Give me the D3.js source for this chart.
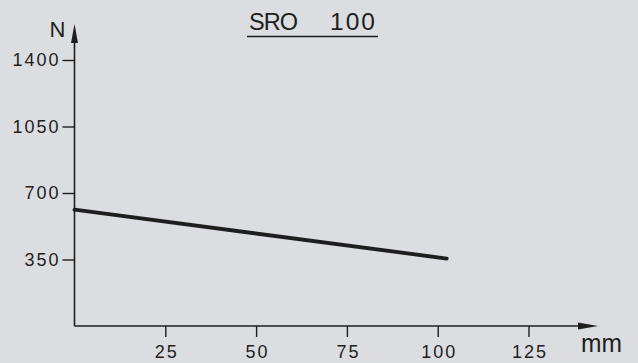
<!DOCTYPE html>
<html>
<head>
<meta charset="utf-8">
<script src="https://cdn.jsdelivr.net/npm/d3@7"></script>
<style>
  html, body { margin: 0; padding: 0; background: #dcdde0; }
  svg { display: block; }
</style>
</head>
<body>
<svg width="638" height="363"></svg>
<script>
// values
const strokeMm = [0, 102.5];
const forceN = [612, 355];
const xTicks = [25, 50, 75, 100, 125];
const yTicks = [350, 700, 1050, 1400];

const ink = "#1e1e1e";
const font = "Liberation Sans, Arial, sans-serif";

const svg = d3.select("svg");

const x = d3.scaleLinear().domain([0, 125]).range([74.5, 528.5]);
const y = d3.scaleLinear().domain([0, 1400]).range([326, 60]);

// title, underlined (two words spaced apart)
svg.append("text")
  .attr("x", 249).attr("y", 30)
  .style("font-family", font)
  .style("font-size", "23.5px")
  .style("letter-spacing", "-1px")
  .style("fill", ink)
  .text("SRO");
svg.append("text")
  .attr("x", 330).attr("y", 30)
  .style("font-family", font)
  .style("font-size", "24.5px")
  .style("letter-spacing", "2px")
  .style("fill", ink)
  .text("100");
svg.append("line")
  .attr("x1", 247).attr("x2", 378)
  .attr("y1", 36.5).attr("y2", 36.5)
  .attr("stroke", ink)
  .attr("stroke-width", 1.6);

// y axis
const yAxis = svg.append("g")
  .attr("transform", `translate(${x(0)},0)`)
  .call(d3.axisLeft(y).tickValues(yTicks).tickFormat(d3.format("d")).tickSize(12).tickPadding(2));
// x axis
const xAxis = svg.append("g")
  .attr("transform", `translate(0,${y(0)})`)
  .call(d3.axisBottom(x).tickValues(xTicks).tickFormat(d3.format("d")).tickSize(11).tickPadding(8));

[yAxis, xAxis].forEach(g => {
  g.select(".domain").remove();
  g.selectAll("line").attr("stroke", ink).attr("stroke-width", 1.4);
  g.selectAll("text")
    .style("font-family", font)
    .style("font-size", "18px")
    .style("letter-spacing", "2px")
    .style("fill", ink);
});
xAxis.selectAll("text").attr("dx", "1px");

// axis lines with arrowheads
svg.append("line")
  .attr("x1", x(0)).attr("x2", x(0))
  .attr("y1", y(0)).attr("y2", 40)
  .attr("stroke", ink).attr("stroke-width", 1.6);
svg.append("path")
  .attr("d", `M${x(0)},24 L${x(0) - 3.5},43 L${x(0) + 3.5},43 Z`)
  .attr("fill", ink);

svg.append("line")
  .attr("x1", x(0)).attr("x2", 580)
  .attr("y1", y(0)).attr("y2", y(0))
  .attr("stroke", ink).attr("stroke-width", 1.6);
svg.append("path")
  .attr("d", `M598,${y(0)} L578,${y(0) - 3.5} L578,${y(0) + 3.5} Z`)
  .attr("fill", ink);

// axis units
svg.append("text")
  .attr("x", 57.5).attr("y", 37)
  .attr("text-anchor", "middle")
  .style("font-family", font)
  .style("font-size", "22px")
  .style("fill", ink)
  .text("N");
svg.append("text")
  .attr("x", 581).attr("y", 352)
  .attr("textLength", 41).attr("lengthAdjust", "spacingAndGlyphs")
  .style("font-family", font)
  .style("font-size", "26px")
  .style("fill", ink)
  .text("mm");

// load line
const line = d3.line()
  .x((d, i) => x(strokeMm[i]))
  .y(d => y(d));
svg.append("path")
  .datum(forceN)
  .attr("d", line)
  .attr("fill", "none")
  .attr("stroke", ink)
  .attr("stroke-width", 3.8)
  .attr("stroke-linecap", "round");
</script>
</body>
</html>
